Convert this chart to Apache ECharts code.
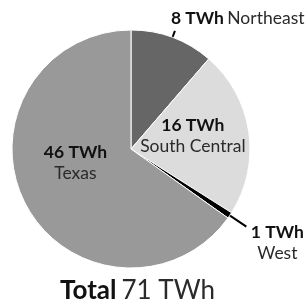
<!DOCTYPE html>
<html>
<head>
<meta charset="utf-8">
<script src="https://cdn.jsdelivr.net/npm/echarts@6/dist/echarts.min.js"></script>
<style>
  html, body { margin: 0; padding: 0; background: #fff; }
  #main { width: 308px; height: 308px; }
</style>
</head>
<body>
<div id="main"></div>
<script>
var regions = ['Northeast', 'South Central', 'West', 'Texas'];
var values = [8, 16, 0.6, 46];
var valueLabels = ['8 TWh', '16 TWh', '1 TWh', '46 TWh'];
var colors = ['#666666', '#dcdcdc', '#000000', '#999999'];
var totalLabel = '71 TWh';

var chartDom = document.getElementById('main');
var myChart = echarts.init(chartDom);
var option;

var FONT = 'Lato';
var FS = 17.5;
var center = [131, 149];

var rich = {
  b: { fontFamily: FONT, fontWeight: 'bold', fontSize: FS, color: '#111' },
  n: { fontFamily: FONT, fontWeight: 'normal', fontSize: FS, color: '#2a2a2a' },
  bc: { fontFamily: FONT, fontWeight: 'bold', fontSize: FS, color: '#111', width: 64, align: 'center', lineHeight: 21 },
  nc: { fontFamily: FONT, fontWeight: 'normal', fontSize: FS, color: '#2a2a2a', width: 64, align: 'center', lineHeight: 21 }
};

// main pie, inside labels for Texas and South Central
var mainData = regions.map(function (name, i) {
  var item = { name: name, value: values[i], itemStyle: { color: colors[i] } };
  if (name === 'Texas') {
    item.label = { show: true, position: 'inside', padding: [0, 0, 30, 0],
      formatter: '{b|' + valueLabels[i] + '}\n{n|' + name + '}' };
  } else if (name === 'South Central') {
    item.label = { show: true, position: 'inside', padding: [0, 0, 8, 0],
      formatter: '{b|' + valueLabels[i] + '}\n{n|' + name + '}' };
  } else {
    item.label = { show: false };
  }
  return item;
});

// overlay pie (transparent) to carry the outside labels with lines starting inside the slice
var overlayData = regions.map(function (name, i) {
  var item = { name: name, value: values[i], itemStyle: { color: 'rgba(0,0,0,0)' } };
  if (name === 'Northeast') {
    item.label = { show: true, position: 'outside', padding: [0, 0, 26, 0], distanceToLabelLine: -4,
      formatter: '{b|' + valueLabels[i] + '} {n|' + name + '}' };
    item.labelLine = { show: true, length: 17, length2: 0 };
  } else if (name === 'West') {
    item.label = { show: true, position: 'outside', padding: [32, 0, 0, 0], distanceToLabelLine: -1,
      formatter: '{bc|' + valueLabels[i] + '}\n{nc|' + name + '}' };
    item.labelLine = { show: true, length: 30, length2: 0 };
  } else {
    item.label = { show: false };
    item.labelLine = { show: false };
  }
  return item;
});

option = {
  animation: false,
  backgroundColor: '#ffffff',
  title: {
    text: '{b|Total} {n|' + totalLabel + '}',
    left: 55,
    top: 273,
    textStyle: {
      rich: {
        b: { fontFamily: FONT, fontWeight: 'bold', fontSize: 26, color: '#111' },
        n: { fontFamily: FONT, fontWeight: 'normal', fontSize: 26, color: '#2a2a2a' }
      }
    }
  },
  series: [
    {
      type: 'pie',
      center: center,
      radius: 119,
      startAngle: 90,
      clockwise: true,
      silent: true,
      avoidLabelOverlap: false,
      itemStyle: { borderColor: '#ffffff', borderWidth: 1 },
      label: { rich: rich, lineHeight: 21 },
      labelLine: { show: false },
      data: mainData
    },
    {
      type: 'pie',
      center: center,
      radius: 109,
      startAngle: 90,
      clockwise: true,
      silent: true,
      avoidLabelOverlap: false,
      itemStyle: { borderWidth: 0 },
      label: { rich: rich },
      labelLine: { lineStyle: { color: '#000', width: 2 } },
      data: overlayData
    }
  ]
};

option && myChart.setOption(option);
</script>
</body>
</html>
